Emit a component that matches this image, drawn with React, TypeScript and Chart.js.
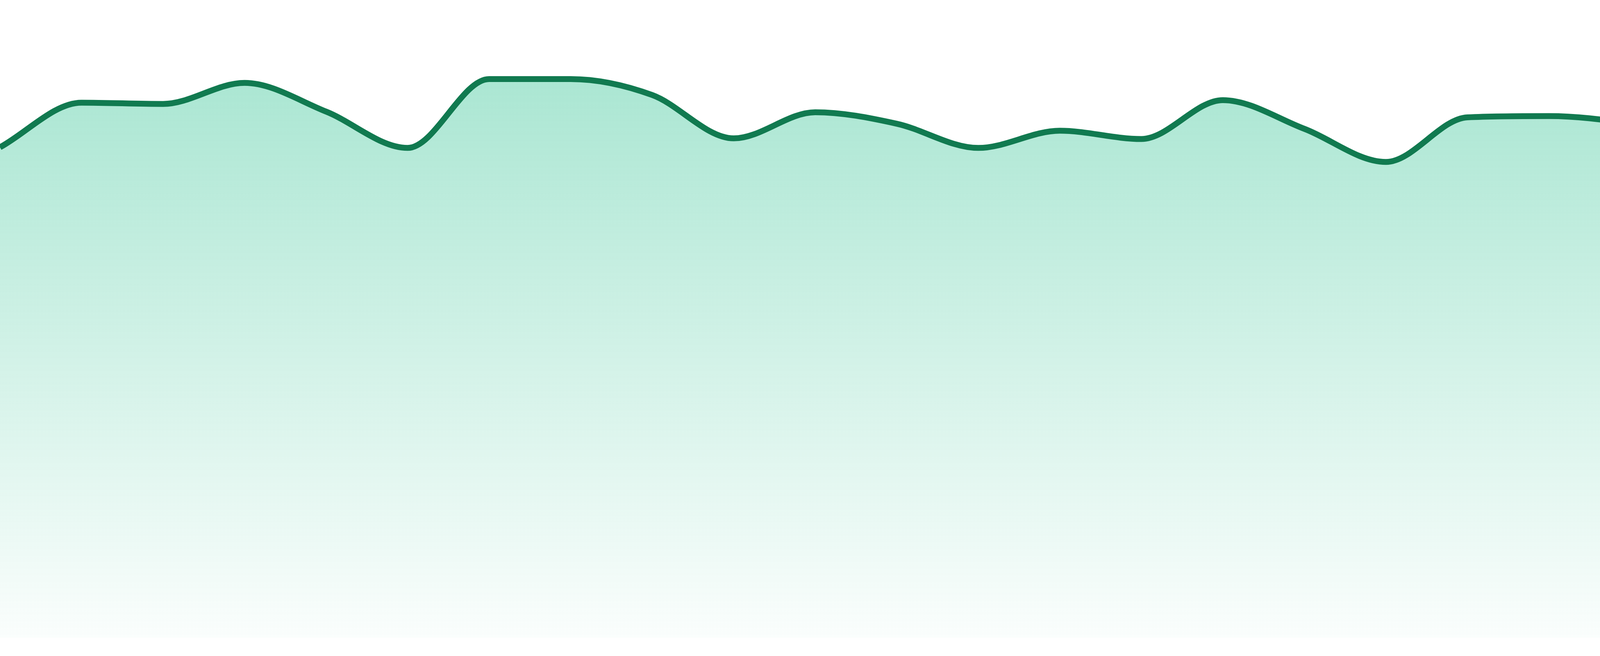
import React, { useEffect, useRef } from "react";
import { Chart, registerables } from "chart.js";

Chart.register(...registerables);

// 24 evenly spaced samples, values on a 0-100 scale
const labels = [
  "1", "2", "3", "4", "5", "6", "7", "8", "9", "10", "11", "12",
  "13", "14", "15", "16", "17", "18", "19", "20", "21", "22", "23", "24",
];
const values = [
  76.9, 83.9, 83.7, 87.0, 82.5, 76.8, 87.6, 87.6, 85.1, 78.3, 82.4, 80.6,
  76.8, 79.5, 78.2, 84.3, 79.8, 74.6, 81.6, 81.8, 80.6, 77.9, 80.1, 76.2,
];

const lineColor = "#117a50";

const App: React.FC = () => {
  const canvasRef = useRef<HTMLCanvasElement>(null);

  useEffect(() => {
    document.body.style.margin = "0";
    if (!canvasRef.current) return;

    const chart = new Chart(canvasRef.current, {
      type: "line",
      data: {
        labels,
        datasets: [
          {
            data: values,
            borderColor: lineColor,
            borderWidth: 15,
            pointRadius: 0,
            cubicInterpolationMode: "monotone",
            fill: "start",
            backgroundColor: (ctx: any) => {
              const area = ctx.chart.chartArea;
              if (!area) return "rgba(16,185,129,0.3)";
              const g = ctx.chart.ctx.createLinearGradient(0, area.top, 0, area.bottom);
              g.addColorStop(0, "rgba(16,185,129,0.4)");
              g.addColorStop(1, "rgba(16,185,129,0.02)");
              return g;
            },
          },
        ],
      },
      options: {
        animation: false,
        responsive: true,
        maintainAspectRatio: false,
        layout: { padding: { top: 0, left: 0, right: 0, bottom: 47 } },
        plugins: {
          legend: { display: false },
          tooltip: { enabled: false },
        },
        scales: {
          x: { display: false },
          y: { display: false, min: 0, max: 100 },
        },
      },
    });

    return () => {
      chart.destroy();
    };
  }, []);

  return (
    <div style={{ width: "4800px", height: "1680px", position: "relative" }}>
      <canvas ref={canvasRef}></canvas>
    </div>
  );
};

export default App;
